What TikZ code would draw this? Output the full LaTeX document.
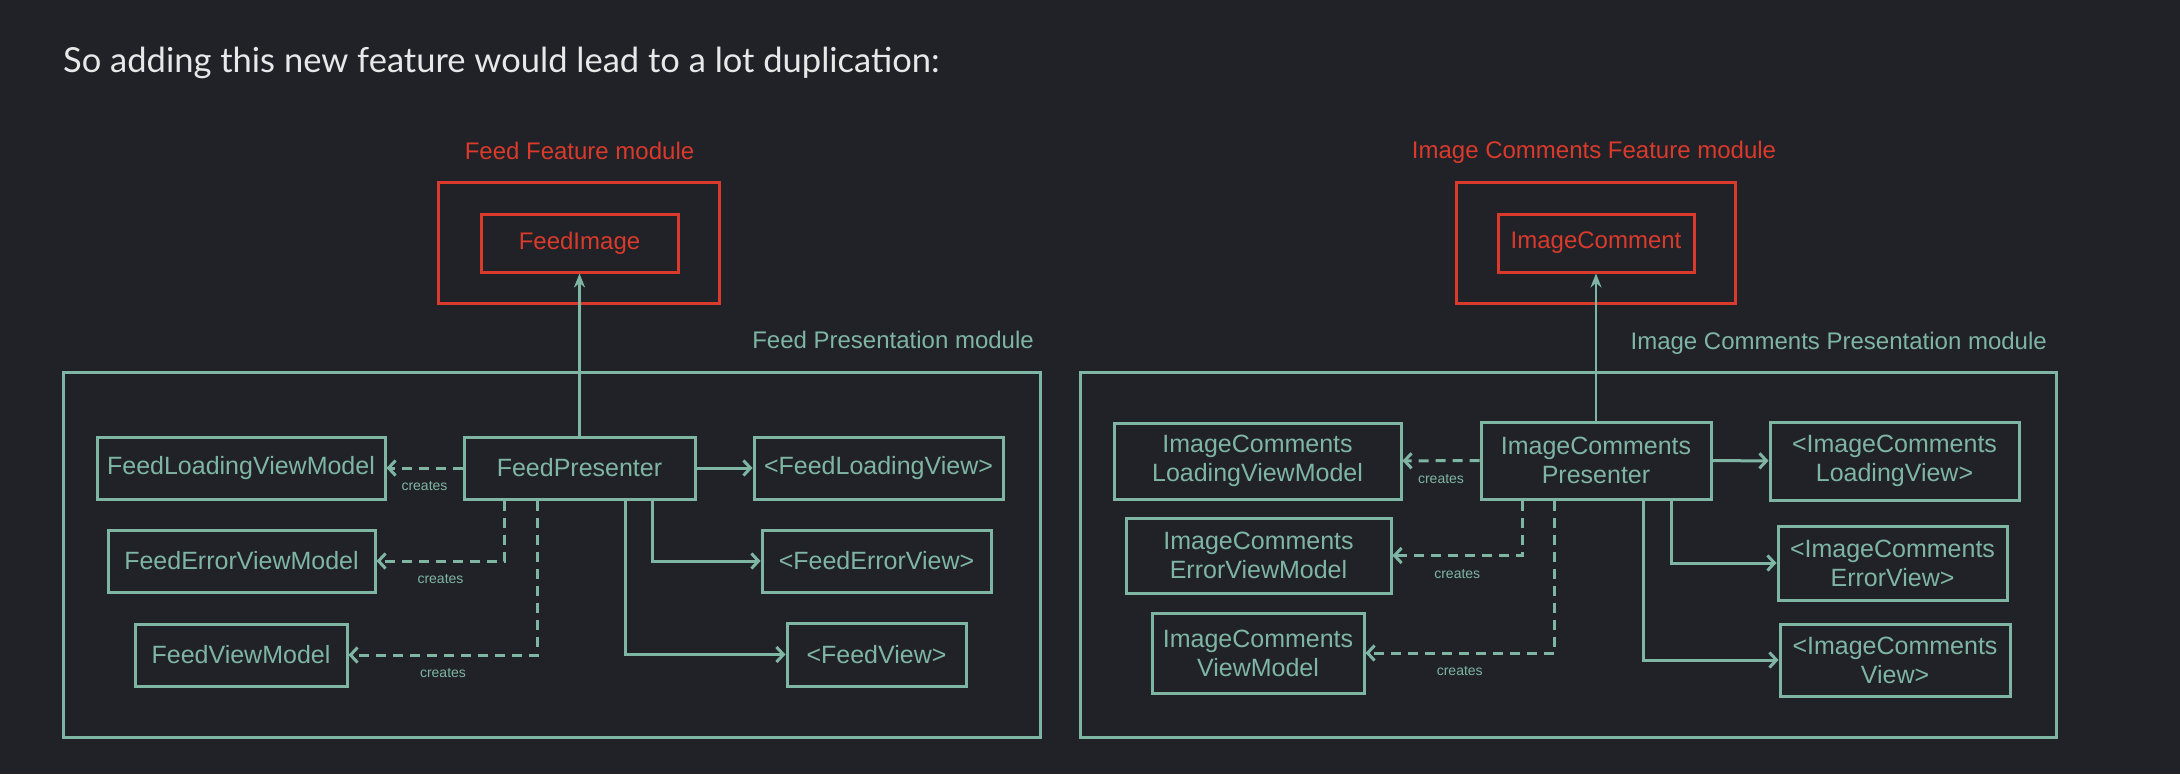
\documentclass[tikz,border=0pt]{standalone}
\usepackage{fontspec}
\setmainfont{Liberation Sans}
\newfontfamily\titlefont{Lato}
\usetikzlibrary{arrows.meta}
\definecolor{pagebg}{HTML}{202227}
\definecolor{moduleteal}{HTML}{7FB5A3}
\definecolor{modulered}{HTML}{DA3A2C}
\definecolor{titlegrey}{HTML}{E8E8E8}

\begin{document}
\begin{tikzpicture}[x=1pt, y=-1pt,
  boxes/.style={draw=moduleteal, line width=3pt, text=moduleteal, align=center,
    inner sep=0pt, font=\fontsize{25}{29}\selectfont},
  redboxes/.style={draw=modulered, line width=3pt, text=modulered, inner sep=0pt,
    font=\fontsize{24}{29}\selectfont},
  modlabel/.style={inner sep=0pt, font=\fontsize{24}{29}\selectfont},
  paths/.style={-{Straight Barb[length=7pt, width=15pt, line width=3pt]},
    draw=moduleteal, line width=3pt},
  creates/.style={paths, dash pattern=on 10pt off 7pt},
  depends/.style={-{Stealth[length=14pt, width=11pt]}, draw=moduleteal, line width=2.5pt},
  createslabel/.style={text=moduleteal, inner sep=0pt, font=\fontsize{14}{16}\selectfont}]

 \fill[pagebg] (0,0) rectangle (2180,774);
 \useasboundingbox (0,0) rectangle (2180,774);

 \node[anchor=base west, inner sep=0pt, text=titlegrey, font=\titlefont\fontsize{34.5}{40}\selectfont]
   (title) at (63,72) {So adding this new feature would lead to a lot duplication:};

 % Feed side
 \node[modlabel, text=modulered] (feed_feature_label) at (579.5,151) {Feed Feature module};
 \node[redboxes, minimum width=281pt, minimum height=121pt] (feed_feature) at (578.5,242.5) {};
 \node[redboxes, minimum width=197pt, minimum height=58pt] (feed_image) at (579.5,243) {FeedImage};

 \node[modlabel, text=moduleteal, anchor=east] (feed_presentation_label) at (1034,340) {Feed Presentation module};
 \node[boxes, minimum width=977pt, minimum height=365pt] (feed_presentation) at (551.5,554.5) {};

 \node[boxes, minimum width=231pt, minimum height=62pt] (feed_presenter) at (579.5,468) {FeedPresenter};

 \node[boxes, minimum width=288pt, minimum height=62pt] (feed_loading_vm) at (241,468) {FeedLoadingViewModel};
 \node[boxes, minimum width=267pt, minimum height=62pt] (feed_error_vm) at (241.5,561) {FeedErrorViewModel};
 \node[boxes, minimum width=212pt, minimum height=62pt] (feed_vm) at (241,655) {FeedViewModel};

 \node[boxes, minimum width=249pt, minimum height=62pt] (feed_loading_view) at (878.5,468) {<FeedLoadingView>};
 \node[boxes, minimum width=229pt, minimum height=62pt] (feed_error_view) at (876.5,561) {<FeedErrorView>};
 \node[boxes, minimum width=179pt, minimum height=63pt] (feed_view) at (876.5,654.5) {<FeedView>};

 \draw [depends] (feed_presenter) -- (feed_image);

 \draw [creates] (feed_presenter) -- (feed_loading_vm)
   node [createslabel, midway, below=12pt] {creates};
 \draw [creates] ([xshift=-75pt]feed_presenter.south) |- (feed_error_vm)
   node [createslabel, pos=0.75, below=12pt] {creates};
 \draw [creates] ([xshift=-42pt]feed_presenter.south) |- (feed_vm)
   node [createslabel, pos=0.75, below=12pt] {creates};

 \draw [paths] (feed_presenter) -- (feed_loading_view);
 \draw [paths] ([xshift=73pt]feed_presenter.south) |- (feed_error_view);
 \draw [paths] ([xshift=46pt]feed_presenter.south) |- (feed_view);

 % Image Comments side
 \node[modlabel, text=modulered] (comments_feature_label) at (1594,152) {Image Comments Feature module};
 \node[redboxes, minimum width=279pt, minimum height=121pt] (comments_feature) at (1595.5,242.5) {};
 \node[redboxes, minimum width=196pt, minimum height=58pt] (image_comment) at (1596,243) {ImageComment};

 \node[modlabel, text=moduleteal, anchor=east] (comments_presentation_label) at (2047,343) {Image Comments Presentation module};
 \node[boxes, minimum width=976pt, minimum height=365pt] (comments_presentation) at (1568,554.5) {};

 \node[boxes, minimum width=230pt, minimum height=77pt] (comments_presenter) at (1596,460.5) {ImageComments\\Presenter};

 \node[boxes, minimum width=287pt, minimum height=76pt] (comments_loading_vm) at (1257.5,461) {ImageComments\\LoadingViewModel};
 \node[boxes, minimum width=265pt, minimum height=75pt] (comments_error_vm) at (1258.5,555.5) {ImageComments\\ErrorViewModel};
 \node[boxes, minimum width=212pt, minimum height=80pt] (comments_vm) at (1258,653) {ImageComments\\ViewModel};

 \node[boxes, minimum width=249pt, minimum height=78pt] (comments_loading_view) at (1894.5,461) {<ImageComments\\LoadingView>};
 \node[boxes, minimum width=229pt, minimum height=74pt] (comments_error_view) at (1892.5,563) {<ImageComments\\ErrorView>};
 \node[boxes, minimum width=230pt, minimum height=72pt] (comments_view) at (1895,660) {<ImageComments\\View>};

 \draw [depends] (comments_presenter) -- (image_comment);

 \draw [creates] (comments_presenter) -- (comments_loading_vm)
   node [createslabel, midway, below=12pt] {creates};
 \draw [creates] ([xshift=-74pt]comments_presenter.south) |- (comments_error_vm)
   node [createslabel, pos=0.75, below=12pt] {creates};
 \draw [creates] ([xshift=-42pt]comments_presenter.south) |- (comments_vm)
   node [createslabel, pos=0.75, below=12pt] {creates};

 \draw [paths] (comments_presenter) -- (comments_loading_view);
 \draw [paths] ([xshift=75pt]comments_presenter.south) |- (comments_error_view);
 \draw [paths] ([xshift=47pt]comments_presenter.south) |- (comments_view);

\end{tikzpicture}
\end{document}
